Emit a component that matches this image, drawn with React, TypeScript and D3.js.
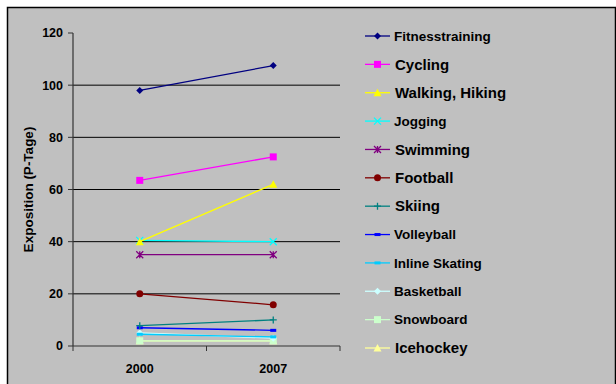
import * as d3 from "d3";
import * as React from "react";

const years = ["2000", "2007"];
const sports = [
  "Fitnesstraining",
  "Cycling",
  "Walking, Hiking",
  "Jogging",
  "Swimming",
  "Football",
  "Skiing",
  "Volleyball",
  "Inline Skating",
  "Basketball",
  "Snowboard",
  "Icehockey",
];
const values2000 = [98, 63.5, 40, 40.5, 35, 20, 7.8, 7, 4.5, 5, 2, 2];
const values2007 = [107.5, 72.5, 62, 40, 35, 15.8, 10, 6, 3.5, 3, 2, 2];
const colors = [
  "#000080", "#FF00FF", "#FFFF00", "#00FFFF", "#800080", "#800000",
  "#008080", "#0000FF", "#00CCFF", "#CCFFFF", "#CCFFCC", "#FFFF99",
];
const markers = [
  "diamond", "square", "triangle", "x", "star", "circle",
  "plus", "dash", "dash", "diamond", "square", "triangle",
];
// legend entries in the original were not all the same size
const legendSizes = [13.5, 15, 15, 13.5, 15, 15, 15, 13.5, 13.5, 13.5, 13.5, 15];
const yTicks = [0, 20, 40, 60, 80, 100, 120];

function Marker({ type, x, y, color }: { type: string; x: number; y: number; color: string }) {
  const s = 3.5;
  switch (type) {
    case "diamond":
      return <path d={`M${x},${y - s}L${x + s},${y}L${x},${y + s}L${x - s},${y}Z`} fill={color} />;
    case "square":
      return <rect x={x - s} y={y - s} width={s * 2} height={s * 2} fill={color} />;
    case "triangle":
      return <path d={`M${x},${y - s - 0.5}L${x + s + 0.5},${y + s}L${x - s - 0.5},${y + s}Z`} fill={color} />;
    case "circle":
      return <circle cx={x} cy={y} r={s} fill={color} />;
    case "x":
      return <path d={`M${x - s},${y - s}L${x + s},${y + s}M${x - s},${y + s}L${x + s},${y - s}`} stroke={color} strokeWidth={1.3} />;
    case "star":
      return (
        <path
          d={`M${x - s},${y - s}L${x + s},${y + s}M${x - s},${y + s}L${x + s},${y - s}M${x},${y - s}L${x},${y + s}`}
          stroke={color}
          strokeWidth={1.3}
        />
      );
    case "plus":
      return <path d={`M${x - s},${y}L${x + s},${y}M${x},${y - s}L${x},${y + s}`} stroke={color} strokeWidth={1.3} />;
    case "dash":
      return <rect x={x - 3} y={y - 1.5} width={6} height={3} fill={color} />;
  }
  return null;
}

export default function App() {
  const width = 616,
    height = 384;
  const plot = { left: 73, right: 340, top: 33, bottom: 346 };

  const x = d3.scaleBand().domain(years).range([plot.left, plot.right]);
  const y = d3.scaleLinear().domain([0, 120]).range([plot.bottom, plot.top]);
  const legendY = d3.scalePoint().domain(sports).range([36, 348]);

  const cx = (yr: string) => (x(yr) as number) + x.bandwidth() / 2;
  const line = d3
    .line<[string, number]>()
    .x((d) => cx(d[0]))
    .y((d) => y(d[1]));

  const font = "'Liberation Sans', Arial, sans-serif";

  return (
    <svg
      width={width}
      height={height}
      style={{ position: "absolute", left: 0, top: 0, background: "#fff" }}
      fontFamily={font}
    >
      <rect x={7.5} y={7.5} width={width - 8} height={height - 6} fill="#C0C0C0" stroke="#000" strokeWidth={1.5} />

      {/* gridlines */}
      {yTicks
        .filter((t) => t > 0 && t < 120)
        .map((t) => (
          <line key={"g" + t} x1={plot.left} x2={plot.right} y1={y(t)} y2={y(t)} stroke="#000" strokeWidth={1} />
        ))}

      {/* y axis */}
      <line x1={plot.left} x2={plot.left} y1={plot.top} y2={plot.bottom} stroke="#333" strokeWidth={1.2} />
      {yTicks.map((t) => (
        <g key={"yt" + t}>
          <line x1={plot.left - 5} x2={plot.left} y1={y(t)} y2={y(t)} stroke="#333" />
          <text x={plot.left - 10} y={y(t)} dy="0.35em" textAnchor="end" fontSize={12.5} fontWeight="bold">
            {t}
          </text>
        </g>
      ))}

      {/* x axis */}
      <line x1={plot.left} x2={plot.right} y1={plot.bottom} y2={plot.bottom} stroke="#333" strokeWidth={1.2} />
      {[...years.map((yr) => x(yr) as number), plot.right].map((p, i) => (
        <line key={"xt" + i} x1={p} x2={p} y1={plot.bottom} y2={plot.bottom + 5} stroke="#333" />
      ))}
      {years.map((yr) => (
        <text key={yr} x={cx(yr)} y={plot.bottom + 27} textAnchor="middle" fontSize={12.5} fontWeight="bold">
          {yr}
        </text>
      ))}

      <text
        transform={`translate(33,${(plot.top + plot.bottom) / 2}) rotate(-90)`}
        textAnchor="middle"
        fontSize={13.5}
        fontWeight="bold"
      >
        Exposition (P-Tage)
      </text>

      {/* series */}
      {sports
        .map((s, i) => ({ s, i }))
        .reverse()
        .map(({ s, i }) => {
          const pts: [string, number][] = [
            [years[0], values2000[i]],
            [years[1], values2007[i]],
          ];
          return (
            <g key={s}>
              <path d={line(pts) as string} fill="none" stroke={colors[i]} strokeWidth={1.3} />
              {pts.map((p) => (
                <Marker key={p[0]} type={markers[i]} x={cx(p[0])} y={y(p[1])} color={colors[i]} />
              ))}
            </g>
          );
        })}

      {/* legend */}
      {sports.map((s, i) => {
        const ly = legendY(s) as number;
        return (
          <g key={"l" + s}>
            <line x1={365} x2={390} y1={ly} y2={ly} stroke={colors[i]} strokeWidth={1.3} />
            <Marker type={markers[i]} x={377.5} y={ly} color={colors[i]} />
            <text x={legendSizes[i] > 14 ? 395 : 394} y={ly} dy="0.35em" fontSize={legendSizes[i]} fontWeight="bold" fill="#000">
              {s}
            </text>
          </g>
        );
      })}
    </svg>
  );
}
